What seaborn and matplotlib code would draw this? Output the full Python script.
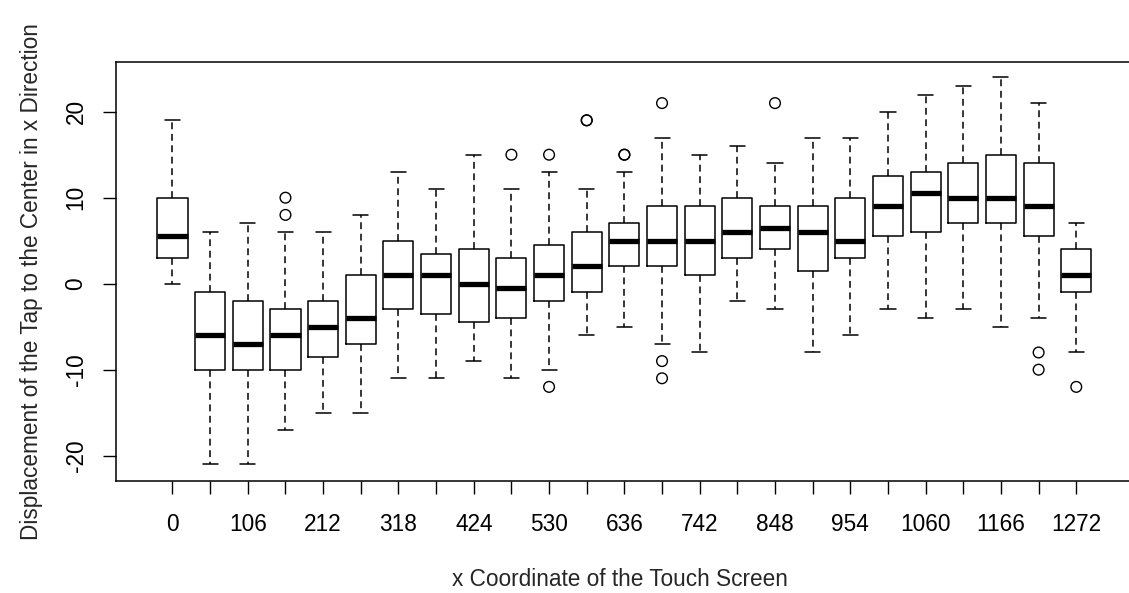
import numpy as np
import pandas as pd
import matplotlib
matplotlib.use('Agg')
import matplotlib.pyplot as plt
import seaborn as sns

# x coordinate groups (one box each)
x_coords = [0, 53, 106, 159, 212, 265, 318, 371, 424, 477, 530, 583, 636,
            689, 742, 795, 848, 901, 954, 1007, 1060, 1113, 1166, 1219, 1272]
shown_labels = [0, 106, 212, 318, 424, 530, 636, 742, 848, 954, 1060, 1166, 1272]

# box stats
whisk_lo = [0, -21, -21, -17, -15, -15, -11, -11, -9, -11, -10, -6, -5,
            -7, -8, -2, -3, -8, -6, -3, -4, -3, -5, -4, -8]
q1 = [3, -10, -10, -10, -8.5, -7, -3, -3.5, -4.5, -4, -2, -1, 2,
      2, 1, 3, 4, 1.5, 3, 5.5, 6, 7, 7, 5.5, -1]
median = [5.5, -6, -7, -6, -5, -4, 1, 1, 0, -0.5, 1, 2, 5,
          5, 5, 6, 6.5, 6, 5, 9, 10.5, 10, 10, 9, 1]
q3 = [10, -1, -2, -3, -2, 1, 5, 3.5, 4, 3, 4.5, 6, 7,
      9, 9, 10, 9, 9, 10, 12.5, 13, 14, 15, 14, 4]
whisk_hi = [19, 6, 7, 6, 6, 8, 13, 11, 15, 11, 13, 11, 13,
            17, 15, 16, 14, 17, 17, 20, 22, 23, 24, 21, 7]

# outliers
out_x = [159, 159, 477, 530, 530, 583, 583, 636, 636, 689, 689, 689, 848, 1219, 1219, 1272]
out_y = [10, 8, 15, 15, -12, 19, 19, 15, 15, 21, -9, -11, 21, -8, -10, -12]

labels = [str(v) for v in x_coords]

rows = []
for i, lab in enumerate(labels):
    for v in (whisk_lo[i], q1[i], median[i], q3[i], whisk_hi[i]):
        rows.append({'x': lab, 'v': v})
df = pd.DataFrame(rows)
df_out = pd.DataFrame({'x': [str(v) for v in out_x], 'v': out_y})

sns.set_style('white')
plt.rcParams['font.family'] = ['Liberation Sans', 'DejaVu Sans']

W, H = 1129, 593
fig = plt.figure(figsize=(W / 100, H / 100), dpi=100)
ax_l, ax_t, ax_b = 116, 62, 480.7
ax = fig.add_axes([ax_l / W, 1 - ax_b / H, (W - ax_l) / W, (ax_b - ax_t) / H])

sns.boxplot(data=df, x='x', y='v', order=labels, whis=(0, 100), width=0.8,
            fill=False, color='black', linewidth=1.1, showfliers=False,
            whiskerprops={'linestyle': (0, (4.5, 3))},
            medianprops={'linewidth': 3.8, 'solid_capstyle': 'butt'},
            ax=ax)
sns.stripplot(data=df_out, x='x', y='v', order=labels, jitter=False,
              color='white', edgecolor='black', linewidth=1.0, size=7.7,
              ax=ax, zorder=5)
for coll in ax.collections:
    coll.set_facecolor('none')

ax.set_xlim(-1.5, 25.4)
ax.set_ylim(-22.91, 25.78)

ax.set_xticks(range(len(labels)))
ax.set_xticklabels([l if int(l) in shown_labels else '' for l in labels])
ax.set_yticks([-20, -10, 0, 10, 20])
ax.set_yticklabels(['-20', '-10', '0', '10', '20'], rotation=90, va='center')

ax.tick_params(axis='both', direction='out', length=9.5, width=1.0,
               colors='black', labelsize=16.3, left=True, bottom=True)
ax.tick_params(axis='x', pad=13.5)
ax.tick_params(axis='y', pad=11)

for side in ['left', 'bottom', 'top']:
    ax.spines[side].set_color('black')
    ax.spines[side].set_linewidth(1.1)
ax.spines['right'].set_visible(False)

ax.set_xlabel('x Coordinate of the Touch Screen', fontsize=16.3, va='center')
ax.xaxis.set_label_coords((620 - ax_l) / (W - ax_l), (ax_b - 580) / (ax_b - ax_t))
ax.set_ylabel('Displacement of the Tap to the Center in x Direction',
              fontsize=16.3, va='center')
ax.yaxis.set_label_coords((32 - ax_l) / (W - ax_l), (ax_b - 282) / (ax_b - ax_t))

plt.savefig('out.png', dpi=100)
